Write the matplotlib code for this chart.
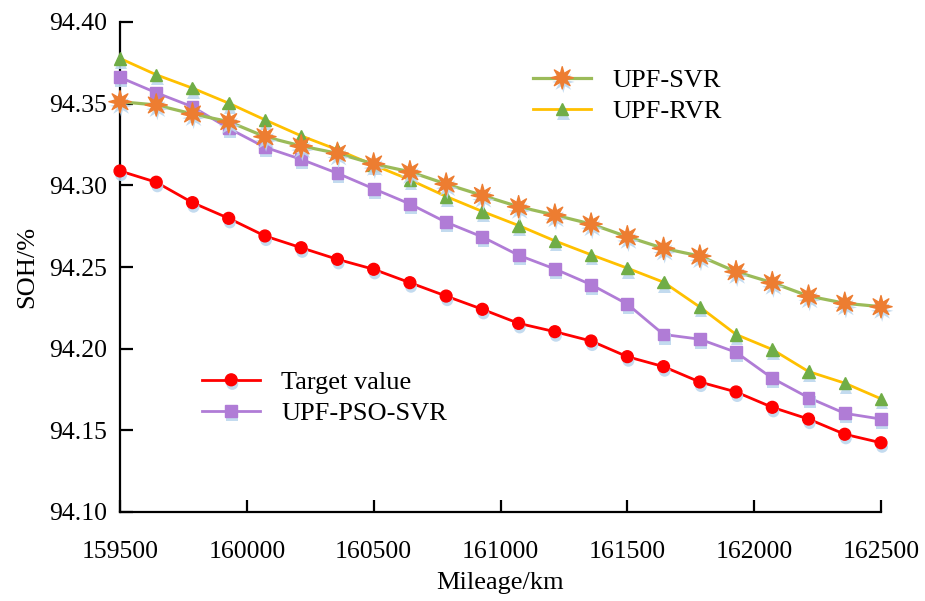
import numpy as np
import matplotlib
matplotlib.use("Agg")
import matplotlib.pyplot as plt
from matplotlib.path import Path
from matplotlib.legend_handler import HandlerTuple
import matplotlib.patheffects as pe

plt.rcParams['font.family'] = ['Liberation Serif', 'DejaVu Serif']

# mileage of each sample (km)
mileage = np.linspace(159500, 162500, 22)

target = [94.3088, 94.3019, 94.2894, 94.2798, 94.2690, 94.2618, 94.2547, 94.2486,
          94.2404, 94.2322, 94.2241, 94.2155, 94.2104, 94.2047, 94.1951, 94.1890,
          94.1796, 94.1735, 94.1641, 94.1569, 94.1476, 94.1424]
upf_pso_svr = [94.3661, 94.3567, 94.3481, 94.3349, 94.3233, 94.3159, 94.3074, 94.2979,
               94.2886, 94.2774, 94.2684, 94.2572, 94.2488, 94.2392, 94.2273, 94.2087,
               94.2058, 94.1978, 94.1819, 94.1700, 94.1604, 94.1569]
upf_rvr = [94.3777, 94.3677, 94.3595, 94.3503, 94.3401, 94.3303, 94.3218, 94.3124,
           94.3034, 94.2932, 94.2840, 94.2754, 94.2660, 94.2575, 94.2493, 94.2407,
           94.2255, 94.2087, 94.1995, 94.1860, 94.1789, 94.1693]
upf_svr = [94.3512, 94.3492, 94.3437, 94.3390, 94.3298, 94.3241, 94.3196, 94.3131,
           94.3083, 94.3008, 94.2938, 94.2869, 94.2818, 94.2763, 94.2685, 94.2614,
           94.2567, 94.2471, 94.2404, 94.2322, 94.2278, 94.2257]

x_ticks = [159500, 160000, 160500, 161000, 161500, 162000, 162500]
y_ticks = [94.10, 94.15, 94.20, 94.25, 94.30, 94.35, 94.40]

star = Path.unit_regular_star(8, 0.42)
shadow = [pe.SimplePatchShadow(offset=(0.8, -3), shadow_rgbFace='#BDD7EE', alpha=0.9),
          pe.Normal()]

fig = plt.figure(figsize=(9.25, 6.01), dpi=100)
ax = fig.add_axes([120 / 925, 1 - 512 / 601, 761 / 925, 490 / 601])


def series(y, line_color, marker, marker_color, ms, lw):
    ln, = ax.plot(mileage, y, color=line_color, lw=lw, clip_on=False, zorder=2)
    mk, = ax.plot(mileage, y, ls='none', marker=marker, ms=ms, color=marker_color,
                  mec=marker_color, clip_on=False, zorder=3, path_effects=shadow)
    return (ln, mk)


h_target = series(target, '#FF0000', 'o', '#FF0000', 8.5, 2.0)
h_pso = series(upf_pso_svr, '#B07CD6', 's', '#B07CD6', 8.5, 2.0)
h_rvr = series(upf_rvr, '#FFC000', '^', '#70AD47', 9, 2.0)
h_svr = series(upf_svr, '#9BBB59', star, '#ED7D31', 16, 2.3)

ax.set_xlim(159500, 162500)
ax.set_ylim(94.10, 94.40)
ax.set_xticks(x_ticks)
ax.set_yticks(y_ticks)
ax.set_yticklabels([f"{v:.2f}" for v in y_ticks])
ax.tick_params(direction='in', length=9, width=1.6, labelsize=18.5, colors='black')
ax.tick_params(axis='x', pad=21)
ax.tick_params(axis='y', pad=9)
for s in ['top', 'right']:
    ax.spines[s].set_visible(False)
for s in ['left', 'bottom']:
    ax.spines[s].set_linewidth(1.6)

ax.set_xlabel('Mileage/km', fontsize=19, labelpad=6)
ax.set_ylabel('SOH/%', fontsize=19, labelpad=8)

leg_kw = dict(frameon=False, fontsize=19, handlelength=2.2, handletextpad=0.8,
              borderpad=0, labelspacing=0.3, loc='center left',
              handler_map={tuple: HandlerTuple(ndivide=1, pad=0)})
leg1 = ax.legend([h_svr, h_rvr], ['UPF-SVR', 'UPF-RVR'],
                 bbox_to_anchor=(520 / 925, 1 - 96 / 601),
                 bbox_transform=fig.transFigure, **leg_kw)
ax.add_artist(leg1)
ax.legend([h_target, h_pso], ['Target value', 'UPF-PSO-SVR'],
          bbox_to_anchor=(189 / 925, 1 - 398 / 601),
          bbox_transform=fig.transFigure, **leg_kw)

fig.savefig('out.png', dpi=100)
